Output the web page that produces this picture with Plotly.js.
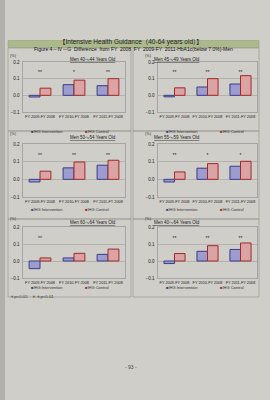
<!DOCTYPE html>
<html><head><meta charset="utf-8">
<script src="https://cdn.plot.ly/plotly-3.0.1.min.js"></script>
<style>html,body{margin:0;padding:0;background:#d0cec8;}#chart{width:270px;height:400px;}</style>
</head><body><div id="chart"></div>
<script>
// ---- data ----
const categories = ['FY 2009-FY 2008', 'FY 2010-FY 2008', 'FY 2011-FY 2008'];
const panelTitles = ['Men 40～44 Years Old', 'Men 45～49 Years Old', 'Men 50～54 Years Old',
                     'Men 55～59 Years Old', 'Men 60～64 Years Old', 'Men 40～64 Years Old'];
const seriesNames = ['IHG Intervention', 'IHG Control'];
const yTicks = [-0.1, 0.0, 0.1, 0.2];

const intervention40_44 = [-0.010, 0.064, 0.058];
const control40_44      = [0.043, 0.091, 0.100];
const sig40_44          = ['**', '*', '**'];

const intervention45_49 = [-0.009, 0.050, 0.068];
const control45_49      = [0.045, 0.100, 0.118];
const sig45_49          = ['**', '**', '**'];

const intervention50_54 = [-0.015, 0.065, 0.080];
const control50_54      = [0.046, 0.098, 0.108];
const sig50_54          = ['**', '**', '**'];

const intervention55_59 = [-0.015, 0.063, 0.074];
const control55_59      = [0.042, 0.089, 0.102];
const sig55_59          = ['**', '*', '*'];

const intervention60_64 = [-0.045, 0.018, 0.039];
const control60_64      = [0.018, 0.045, 0.070];
const sig60_64          = ['**', '', ''];

const intervention40_64 = [-0.015, 0.057, 0.068];
const control40_64      = [0.044, 0.090, 0.106];
const sig40_64          = ['**', '**', '**'];

const interventionSets = [intervention40_44, intervention45_49, intervention50_54, intervention55_59, intervention60_64, intervention40_64];
const controlSets      = [control40_44, control45_49, control50_54, control55_59, control60_64, control40_64];
const sigSets          = [sig40_44, sig45_49, sig50_54, sig55_59, sig60_64, sig40_64];

// ---- layout helpers (pixel -> paper) ----
const W = 270, H = 400;
const px = x => x / W;
const py = y => 1 - y / H;
const FONT = 'Arial, "Liberation Sans", "Noto Sans CJK JP", sans-serif';

const cols = [[23, 125], [158, 257]];
const rows = [[62, 112], [144, 197], [227, 278]];
const titleY = [55, 137, 222];
const legendY = [127, 209, 292];
const boxCols = [[8, 131], [133, 259]];
const boxRows = [[48, 131], [131, 219], [219, 297]];

const intColor = '#9c9ccf', intLine = '#3c3c88';
const ctlColor = '#dba3a3', ctlLine = '#a02a2a';

const data = [];
const layout = {
  width: W, height: H,
  margin: {l: 0, r: 0, t: 0, b: 0},
  paper_bgcolor: '#d0cec8',
  plot_bgcolor: 'rgba(0,0,0,0)',
  showlegend: false,
  barmode: 'group', bargap: 0.36, bargroupgap: 0,
  font: {family: FONT, color: '#222'},
  annotations: [], shapes: []
};

// page decoration
layout.shapes.push({type: 'rect', xref: 'paper', yref: 'paper', x0: 0, x1: px(5), y0: 0, y1: 1,
  fillcolor: '#b2b0aa', line: {width: 0}, layer: 'below'});
layout.shapes.push({type: 'rect', xref: 'paper', yref: 'paper', x0: px(8), x1: px(259), y0: py(47.5), y1: py(40.5),
  fillcolor: '#abb98b', line: {color: '#8e9c70', width: 0.5}, layer: 'below'});

layout.annotations.push({xref: 'paper', yref: 'paper', x: px(131), y: py(36), text: '【Intensive Health Guidance（40-64 years old）】',
  showarrow: false, font: {size: 6.5, color: '#222', family: FONT}});
layout.annotations.push({xref: 'paper', yref: 'paper', x: px(133), y: py(44), text: 'Figure 4－Ⅳ－G  Difference  from FY  2008  FY  2009-FY  2011-HbA1c(below 7.0%)-Men',
  showarrow: false, font: {size: 5, color: '#111', family: FONT}});
layout.annotations.push({xref: 'paper', yref: 'paper', x: px(8), y: py(301), xanchor: 'left', text: '＊p<0.05　＊＊p<0.01',
  showarrow: false, font: {size: 4.3, color: '#333', family: FONT}});
layout.annotations.push({xref: 'paper', yref: 'paper', x: px(131), y: py(372), text: '- 93 -',
  showarrow: false, font: {size: 5, color: '#444', family: FONT}});

for (let i = 0; i < 6; i++) {
  const c = i % 2, r = Math.floor(i / 2);
  const sfx = i === 0 ? '' : String(i + 1);
  const xa = 'x' + sfx, ya = 'y' + sfx;
  const [xl, xr] = cols[c], [yt, yb] = rows[r];

  layout['xaxis' + sfx] = {
    domain: [px(xl), px(xr)], anchor: ya, type: 'category', tickangle: 0, automargin: false,
    tickfont: {size: 3.8, color: '#222'}, showline: true, mirror: true, linecolor: '#8a8a8a', linewidth: 0.6,
    ticks: '', showgrid: false, zeroline: false, fixedrange: true, ticklabelstandoff: 1
  };
  layout['yaxis' + sfx] = {
    domain: [py(yb), py(yt)], anchor: xa, range: [-0.1, 0.2], tickvals: yTicks, tickformat: '.1f',
    tickfont: {size: 4.5, color: '#222'}, showgrid: true, gridcolor: '#969490', gridwidth: 0.5, automargin: false,
    showline: true, mirror: true, linecolor: '#8a8a8a', linewidth: 0.6, zeroline: false, ticks: '', fixedrange: true,
    ticklabelstandoff: 2
  };

  data.push({type: 'bar', name: seriesNames[0], x: categories, y: interventionSets[i], xaxis: xa, yaxis: ya,
    marker: {color: intColor, line: {color: intLine, width: 1}}, hoverinfo: 'skip'});
  data.push({type: 'bar', name: seriesNames[1], x: categories, y: controlSets[i], xaxis: xa, yaxis: ya,
    marker: {color: ctlColor, line: {color: ctlLine, width: 1}}, hoverinfo: 'skip'});
  data.push({type: 'scatter', mode: 'text', x: categories, y: categories.map(() => 0.133), text: sigSets[i],
    xaxis: xa, yaxis: ya, textfont: {size: 5, color: '#222', family: FONT}, hoverinfo: 'skip'});

  // panel box
  layout.shapes.push({type: 'rect', xref: 'paper', yref: 'paper',
    x0: px(boxCols[c][0]), x1: px(boxCols[c][1]), y0: py(boxRows[r][1]), y1: py(boxRows[r][0]),
    line: {color: '#9a9893', width: 0.7}, fillcolor: 'rgba(0,0,0,0)', layer: 'below'});

  // title, unit
  layout.annotations.push({xref: 'paper', yref: 'paper', x: px((xl + xr) / 2 - 6), y: py(titleY[r]),
    text: '<u>' + panelTitles[i] + '</u>', showarrow: false, font: {size: 4.5, color: '#222', family: FONT}});
  layout.annotations.push({xref: 'paper', yref: 'paper', x: px(xl - 15), y: py(titleY[r] - 3), xanchor: 'left',
    text: '(%)', showarrow: false, font: {size: 3.8, color: '#333', family: FONT}});

  // legend
  layout.annotations.push({xref: 'paper', yref: 'paper', x: px(xl + 6), y: py(legendY[r]), xanchor: 'left',
    text: '<span style="color:' + intLine + '">■</span>' + seriesNames[0], showarrow: false,
    font: {size: 4, color: '#333', family: FONT}});
  layout.annotations.push({xref: 'paper', yref: 'paper', x: px(xl + 60), y: py(legendY[r]), xanchor: 'left',
    text: '<span style="color:' + ctlLine + '">■</span>' + seriesNames[1], showarrow: false,
    font: {size: 4, color: '#333', family: FONT}});
}

Plotly.newPlot('chart', data, layout, {staticPlot: true, displayModeBar: false});
</script>
</body></html>
